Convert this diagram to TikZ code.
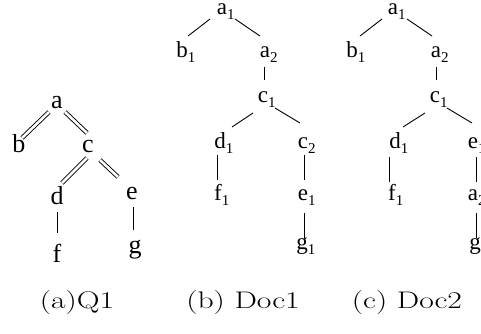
\documentclass[tikz,border=0pt]{standalone}
\usepackage{fontspec}
\newfontfamily\treefont{Liberation Serif}
\newcommand\subidx[1]{\rlap{\raisebox{-5pt}{\fontsize{15}{15}\selectfont #1}}}
\begin{document}
\begin{tikzpicture}[x=1pt,y=-1pt,
  qnode/.style={inner sep=0pt,anchor=base,font=\treefont\fontsize{26}{26}\selectfont},
  dnode/.style={inner sep=0pt,anchor=base,font=\treefont\fontsize{23}{23}\selectfont},
  edge/.style={line width=0.9pt},
  dedge/.style={line width=0.9pt,double,double distance=2.6pt},
  caption/.style={inner sep=0pt,anchor=base,font=\fontsize{24}{24}\selectfont}]
\useasboundingbox (0,0) rectangle (481,333);

% (a) query tree Q1
\node[qnode] (qa) at (57,108) {a};
\node[qnode] (qb) at (19,152) {b};
\node[qnode] (qc) at (88,152) {c};
\node[qnode] (qd) at (57,204) {d};
\node[qnode] (qe) at (132,199) {e};
\node[qnode] (qf) at (57,262) {f};
\node[qnode] (qg) at (135,253) {g};
\draw[dedge] ([shift={(-8,4)}]qa.base) -- ([shift={(3,-14)}]qb.base);
\draw[dedge] ([shift={(8,4)}]qa.base) -- ([shift={(-1,-19)}]qc.base);
\draw[dedge] ([shift={(-1,6)}]qc.base) -- ([shift={(5,-21)}]qd.base);
\draw[dedge] ([shift={(12,8)}]qc.base) -- ([shift={(-14,-22)}]qe.base);
\draw[edge] ([shift={(0,8)}]qd.base) -- ([shift={(0,-29)}]qf.base);
\draw[edge] ([shift={(1,8)}]qe.base) -- ([shift={(-2,-23)}]qg.base);

% (b) document tree Doc1
\node[dnode] (pa1) at (222,14) {a\subidx{1}};
\node[dnode] (pb1) at (182,57) {b\subidx{1}};
\node[dnode] (pa2) at (265,57) {a\subidx{2}};
\node[dnode] (pc1) at (263,102) {c\subidx{1}};
\node[dnode] (pd1) at (220,148) {d\subidx{1}};
\node[dnode] (pc2) at (303,148) {c\subidx{2}};
\node[dnode] (pf1) at (218,200) {f\subidx{1}};
\node[dnode] (pe1) at (303,200) {e\subidx{1}};
\node[dnode] (pg1) at (302,249) {g\subidx{1}};
\draw[edge] ([shift={(-12,5)}]pa1.base) -- ([shift={(6,-21)}]pb1.base);
\draw[edge] ([shift={(13,5)}]pa1.base) -- ([shift={(-5,-21)}]pa2.base);
\draw[edge] ([shift={(-1,10)}]pa2.base) -- ([shift={(1,-22)}]pc1.base);
\draw[edge] ([shift={(-10,11)}]pc1.base) -- ([shift={(12,-21)}]pd1.base);
\draw[edge] ([shift={(12,6)}]pc1.base) -- ([shift={(-3,-25)}]pc2.base);
\draw[edge] ([shift={(-3,7)}]pd1.base) -- ([shift={(-1,-20)}]pf1.base);
\draw[edge] ([shift={(1,7)}]pc2.base) -- ([shift={(1,-20)}]pe1.base);
\draw[edge] ([shift={(1,13)}]pe1.base) -- ([shift={(2,-11)}]pg1.base);

% (c) document tree Doc2
\node[dnode] (ra1) at (393,14) {a\subidx{1}};
\node[dnode] (rb1) at (352,57) {b\subidx{1}};
\node[dnode] (ra2) at (436,57) {a\subidx{2}};
\node[dnode] (rc1) at (435,102) {c\subidx{1}};
\node[dnode] (rd1) at (395,148) {d\subidx{1}};
\node[dnode] (re1) at (473,148) {e\subidx{1}};
\node[dnode] (rf1) at (392,200) {f\subidx{1}};
\node[dnode] (ra3) at (473,200) {a\subidx{2}};
\node[dnode] (rg1) at (475,249) {g\subidx{1}};
\draw[edge] ([shift={(-11,5)}]ra1.base) -- ([shift={(8,-21)}]rb1.base);
\draw[edge] ([shift={(14,5)}]ra1.base) -- ([shift={(-4,-21)}]ra2.base);
\draw[edge] ([shift={(0,10)}]ra2.base) -- ([shift={(1,-22)}]rc1.base);
\draw[edge] ([shift={(-10,11)}]rc1.base) -- ([shift={(8,-21)}]rd1.base);
\draw[edge] ([shift={(12,6)}]rc1.base) -- ([shift={(-1,-25)}]re1.base);
\draw[edge] ([shift={(-6,9)}]rd1.base) -- ([shift={(-3,-18)}]rf1.base);
\draw[edge] ([shift={(3,9)}]re1.base) -- ([shift={(3,-18)}]ra3.base);
\draw[edge] ([shift={(3,13)}]ra3.base) -- ([shift={(1,-11)}]rg1.base);

% captions
\node[caption] (capa) at (77,308) {\scalebox{1.32}[1]{(a)Q1}};
\node[caption] (capb) at (243,308) {\scalebox{1.32}[1]{(b) Doc1}};
\node[caption] (capc) at (407,308) {\scalebox{1.32}[1]{(c) Doc2}};
\end{tikzpicture}
\end{document}
